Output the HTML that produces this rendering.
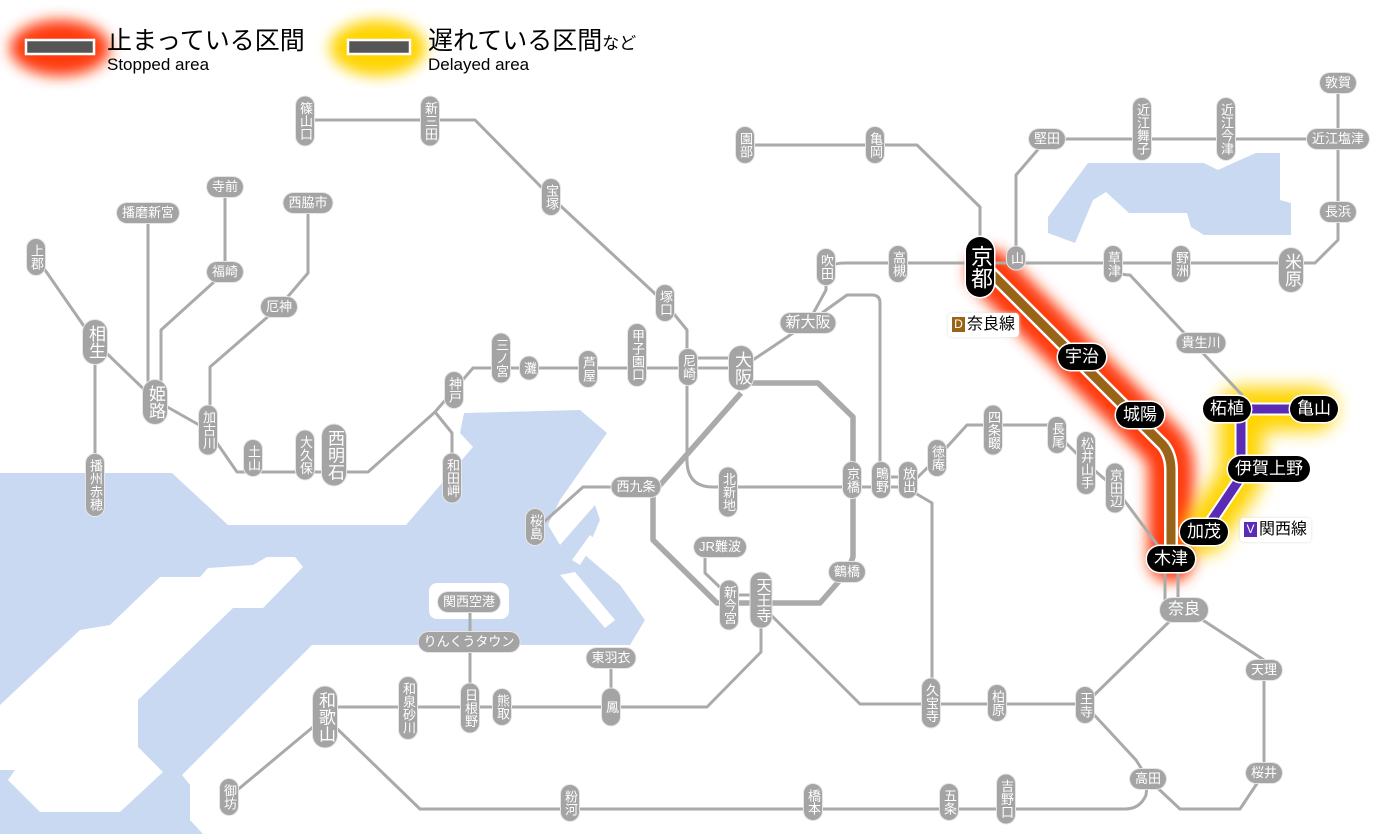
<!DOCTYPE html>
<html><head><meta charset="utf-8">
<style>
*{margin:0;padding:0;box-sizing:border-box}
body{width:1400px;height:834px;overflow:hidden;background:#fff;position:relative;font-family:"Liberation Sans","Noto Sans CJK JP",sans-serif}
svg{position:absolute;left:0;top:0}
.l{position:absolute;transform:translate(-50%,-50%);background:#a4a4a4;color:#fff;border-radius:10px;box-shadow:0 0 0 1px #e6e6e6;white-space:nowrap;text-align:center;font-size:13px}
.v{writing-mode:vertical-rl;width:18px;padding:5px 0;line-height:18px}
.h{height:20px;line-height:20px;padding:0 5px}
.big{width:24px;font-size:17px;line-height:24px;border-radius:12px}
.b{background:#000;font-size:17px;box-shadow:0 0 0 1.5px #fff;border-radius:13px}
.bh{height:26px;line-height:26px;padding:0 7px}
.bv{writing-mode:vertical-rl;width:28px;line-height:28px;padding:8px 0;font-size:22px;border-radius:14px}
.tag{position:absolute;background:#fff;border-radius:4px;box-shadow:0 0 3px #ddd;font-size:16px;line-height:22px;padding:1px 4px;color:#000}
.tag i{font-style:normal;display:inline-block;width:13px;height:15px;line-height:15px;font-size:12px;color:#fff;text-align:center;margin-right:2px;vertical-align:1px}
.lg{position:absolute;color:#000}
</style></head><body>
<svg width="1400" height="834" viewBox="0 0 1400 834">
<defs>
<filter id="bl" x="-50%" y="-50%" width="200%" height="200%"><feGaussianBlur stdDeviation="7"/></filter>
<filter id="bl2" x="-50%" y="-50%" width="200%" height="200%"><feGaussianBlur stdDeviation="9"/></filter>
</defs>
<g fill="#c9d9f2">
<polygon points="0,473 172,473 228,525 406,525 473,447 460,433 464,413 580,410 607,433 560,500 548,525 560,545 595,505 600,520 585,555 620,585 645,620 630,645 312,645 182,775 190,785 190,820 203,834 0,834"/>
<polygon points="1048,217 1088,163 1204,163 1218,170 1240,160 1256,153 1280,153 1280,200 1291,203 1291,235 1204,235 1191,227 1187,213 1129,213 1106,192 1093,200 1075,243 1048,233"/>
</g>
<g fill="#fff">
<polygon points="303,567 295,557 267,557 253,565 208,568 200,577 160,577 110,625 80,630 0,705 0,770 15,770 8,780 40,812 120,812 163,772 138,747 138,700 233,608 263,608"/>
<rect x="429" y="583" width="80" height="36" rx="8"/>
<polygon points="572,560 590,535 596,540 580,565"/>
<polygon points="560,575 575,572 615,620 605,628"/>
</g>
<!-- glows -->
<path d="M990,272 L1163,445 Q1171,455 1171,470 V559" stroke="#ff3a10" stroke-width="46" fill="none" stroke-linecap="round" filter="url(#bl)"/>
<path d="M1204,532 L1241,477 V409 H1314" stroke="#ffd400" stroke-width="44" fill="none" stroke-linecap="round" stroke-linejoin="round" filter="url(#bl2)"/>
<ellipse cx="60" cy="48" rx="50" ry="28" fill="#ff3a10" filter="url(#bl)"/>
<ellipse cx="378" cy="48" rx="48" ry="28" fill="#ffd400" filter="url(#bl)"/>
<rect x="26" y="40" width="68" height="14" fill="#555" stroke="#fff" stroke-width="2.5"/>
<rect x="348" y="40" width="62" height="14" fill="#555" stroke="#fff" stroke-width="2.5"/>
<g stroke="#aaa" stroke-width="3" fill="none" stroke-linejoin="round" stroke-linecap="round">
<path d="M305,120 H475 L551,197 L665,303 L687,330 V368"/>
<path d="M454,390 L473,368 H741 M687,358 H741"/>
<path d="M741,368 L808,323 L826,290 V275 Q826,263 845,263 H1315 L1338,240 V83"/>
<path d="M1016,263 V175 L1047,139 H1338"/>
<path d="M745,145 H917 L980,207 V267"/>
<path d="M1113,268 Q1118,275 1130,275 L1242,395 L1230,409"/>
<path d="M535,530 L583,487 H636"/>
<path d="M687,368 V460 Q687,487 713,487 H908 M881,477 H908"/>
<path d="M808,323 L847,295 H872 Q880,295 880,303 V480"/>
<path d="M908,487 L937,458 L967,425 H1048 L1086,463 L1115,488 L1165,555"/>
<path d="M910,490 L932,503 V703"/>
<path d="M761,605 L860,704 H1085 L1173,618 M1165,565 V610 M1178,565 V610"/>
<path d="M1195,615 L1264,660 V773 L1240,809 H1180 L1148,779"/>
<path d="M1085,705 L1136,760 L1148,779 L1146,795 Q1140,809 1125,809 H420 L325,717"/>
<path d="M761,600 V652 L707,707 H325 M611,658 V707 M470,602 V707"/>
<path d="M325,717 L229,797"/>
<path d="M36,257 L95,342 L155,400 M95,342 V485 M148,213 V400 M225,187 V272 L161,330 V400 M308,203 V273 L279,307 L210,367 V430"/>
<path d="M155,400 L208,430 L237,472 H368 L435,412 L454,390 M435,412 L452,433 V478"/>
<path d="M705,547 V573 L728,595 M729,595 H761"/>
</g>
<path d="M741,383 H818 L853,417 V557 L847,572 L820,603 H717 L653,540 V493 L741,393" stroke="#aaa" stroke-width="5.5" fill="none" stroke-linejoin="round"/>
<path d="M990,272 L1163,445 Q1171,455 1171,470 V559" stroke="#fff" stroke-width="14" fill="none"/>
<path d="M990,272 L1163,445 Q1171,455 1171,470 V559" stroke="#9a6418" stroke-width="9" fill="none"/>
<path d="M1204,532 L1241,477 V409 H1314" stroke="#fff" stroke-width="13" fill="none" stroke-linejoin="round"/>
<path d="M1204,532 L1241,477 V409 H1314" stroke="#5a2bb5" stroke-width="9" fill="none" stroke-linejoin="round"/>
</svg>

<div class="lg" style="left:107px;top:26px;font-size:25px;line-height:30px">止まっている区間</div>
<div class="lg" style="left:107px;top:55px;font-size:17px;line-height:20px">Stopped area</div>
<div class="lg" style="left:428px;top:26px;font-size:25px;line-height:30px">遅れている区間<span style="font-size:17px">など</span></div>
<div class="lg" style="left:428px;top:55px;font-size:17px;line-height:20px">Delayed area</div>

<div class="l v" style="left:305px;top:121px">篠山口</div>
<div class="l v" style="left:430px;top:121px">新三田</div>
<div class="l v" style="left:551px;top:197px">宝塚</div>
<div class="l v" style="left:665px;top:303px">塚口</div>
<div class="l v" style="left:36px;top:257px">上郡</div>
<div class="l v big" style="left:95px;top:342px">相生</div>
<div class="l v big" style="left:155px;top:402px">姫路</div>
<div class="l v" style="left:95px;top:485px">播州赤穂</div>
<div class="l v" style="left:208px;top:430px">加古川</div>
<div class="l v" style="left:253px;top:458px">土山</div>
<div class="l v" style="left:305px;top:455px">大久保</div>
<div class="l v big" style="left:334px;top:455px">西明石</div>
<div class="l v" style="left:454px;top:390px">神戸</div>
<div class="l v" style="left:452px;top:478px">和田岬</div>
<div class="l v" style="left:501px;top:358px">三ノ宮</div>
<div class="l v" style="left:529px;top:368px">灘</div>
<div class="l v" style="left:588px;top:369px">芦屋</div>
<div class="l v" style="left:637px;top:355px">甲子園口</div>
<div class="l v" style="left:688px;top:367px">尼崎</div>
<div class="l v big" style="left:741px;top:368px">大阪</div>
<div class="l v" style="left:535px;top:527px">桜島</div>
<div class="l v" style="left:728px;top:492px">北新地</div>
<div class="l v" style="left:852px;top:480px">京橋</div>
<div class="l v" style="left:881px;top:480px">鴫野</div>
<div class="l v" style="left:908px;top:480px">放出</div>
<div class="l v" style="left:937px;top:458px">徳庵</div>
<div class="l v" style="left:993px;top:430px">四条畷</div>
<div class="l v" style="left:1057px;top:435px">長尾</div>
<div class="l v" style="left:1086px;top:463px">松井山手</div>
<div class="l v" style="left:1115px;top:488px">京田辺</div>
<div class="l v" style="left:826px;top:267px">吹田</div>
<div class="l v" style="left:898px;top:264px">高槻</div>
<div class="l v" style="left:1016px;top:258px">山</div>
<div class="l v" style="left:1113px;top:264px">草津</div>
<div class="l v" style="left:1181px;top:264px">野洲</div>
<div class="l v big" style="left:1291px;top:270px">米原</div>
<div class="l v" style="left:745px;top:145px">園部</div>
<div class="l v" style="left:875px;top:145px">亀岡</div>
<div class="l v" style="left:1142px;top:129px">近江舞子</div>
<div class="l v" style="left:1226px;top:129px">近江今津</div>
<div class="l v" style="left:729px;top:605px">新今宮</div>
<div class="l v" style="left:761px;top:600px;font-size:15px;width:21px">天王寺</div>
<div class="l v" style="left:931px;top:703px">久宝寺</div>
<div class="l v" style="left:997px;top:703px">柏原</div>
<div class="l v" style="left:1085px;top:705px">王寺</div>
<div class="l v" style="left:1006px;top:799px">吉野口</div>
<div class="l v" style="left:949px;top:802px">五条</div>
<div class="l v" style="left:813px;top:802px">橋本</div>
<div class="l v" style="left:570px;top:803px">粉河</div>
<div class="l v" style="left:229px;top:797px">御坊</div>
<div class="l v big" style="left:325px;top:717px">和歌山</div>
<div class="l v" style="left:408px;top:708px">和泉砂川</div>
<div class="l v" style="left:470px;top:708px">日根野</div>
<div class="l v" style="left:502px;top:707px">熊取</div>
<div class="l v" style="left:611px;top:707px;padding:12px 0">鳳</div>

<div class="l h" style="left:148px;top:213px">播磨新宮</div>
<div class="l h" style="left:225px;top:187px">寺前</div>
<div class="l h" style="left:225px;top:272px">福崎</div>
<div class="l h" style="left:308px;top:203px">西脇市</div>
<div class="l h" style="left:279px;top:307px">厄神</div>
<div class="l h" style="left:808px;top:323px;font-size:15px">新大阪</div>
<div class="l h" style="left:636px;top:487px">西九条</div>
<div class="l h" style="left:720px;top:547px">JR難波</div>
<div class="l h" style="left:847px;top:572px">鶴橋</div>
<div class="l h" style="left:469px;top:602px">関西空港</div>
<div class="l h" style="left:469px;top:642px">りんくうタウン</div>
<div class="l h" style="left:611px;top:658px">東羽衣</div>
<div class="l h" style="left:1184px;top:610px;font-size:16px;height:24px;line-height:24px;padding:0 8px;border-radius:12px">奈良</div>
<div class="l h" style="left:1264px;top:670px">天理</div>
<div class="l h" style="left:1264px;top:773px">桜井</div>
<div class="l h" style="left:1148px;top:779px">高田</div>
<div class="l h" style="left:1201px;top:343px">貴生川</div>
<div class="l h" style="left:1047px;top:139px">堅田</div>
<div class="l h" style="left:1338px;top:139px">近江塩津</div>
<div class="l h" style="left:1338px;top:83px">敦賀</div>
<div class="l h" style="left:1338px;top:212px">長浜</div>

<div class="l b bv" style="left:980px;top:267px">京都</div>
<div class="l b bh" style="left:1082px;top:357px">宇治</div>
<div class="l b bh" style="left:1140px;top:415px">城陽</div>
<div class="l b bh" style="left:1171px;top:559px">木津</div>
<div class="l b bh" style="left:1227px;top:409px">柘植</div>
<div class="l b bh" style="left:1314px;top:409px">亀山</div>
<div class="l b bh" style="left:1269px;top:469px">伊賀上野</div>
<div class="l b bh" style="left:1204px;top:532px">加茂</div>

<div class="tag" style="left:948px;top:313px"><i style="background:#9a6418">D</i>奈良線</div>
<div class="tag" style="left:1240px;top:518px"><i style="background:#5a2bb5">V</i>関西線</div>
</body></html>
